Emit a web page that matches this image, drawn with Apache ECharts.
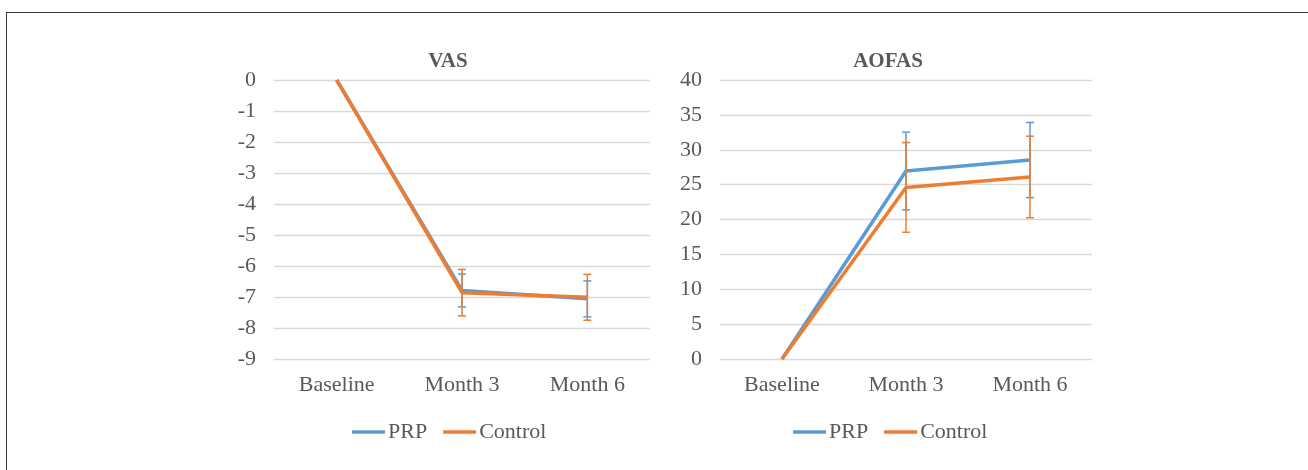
<!DOCTYPE html>
<html>
<head>
<meta charset="utf-8">
<script src="https://cdn.jsdelivr.net/npm/echarts@6/dist/echarts.min.js"></script>
<style>
  html, body { margin: 0; padding: 0; background: #fff; overflow: hidden; }
  #chart { width: 1308px; height: 470px; }
  .frame { position: absolute; left: 6px; top: 12px; width: 1400px; height: 600px;
           border-top: 1.5px solid #3a3a3a; border-left: 1.5px solid #3a3a3a; pointer-events: none; }
</style>
</head>
<body>
<div id="chart"></div>
<div class="frame"></div>
<script>
// categories
var categories = ["Baseline", "Month 3", "Month 6"]

// VAS change from baseline (mean, sd)
var vasPrp = [0, -6.79, -7.06]
var vasPrpSd = [0, 0.53, 0.58]
var vasControl = [0, -6.86, -7.01]
var vasControlSd = [0, 0.75, 0.74]

// AOFAS change from baseline (mean, sd)
var aofasPrp = [0, 26.95, 28.53]
var aofasPrpSd = [0, 5.57, 5.38]
var aofasControl = [0, 24.6, 26.1]
var aofasControlSd = [0, 6.43, 5.85]

var BLUE = "#5B9BD5"
var ORANGE = "#ED7D31"
var TXT = "#595959"
var FONT = "Liberation Serif"

function errData(mean, sd) {
    var out = []
    for (var i = 0; i < mean.length; i++) {
        if (sd[i]) out.push([i, mean[i] - sd[i], mean[i] + sd[i]])
    }
    return out
}

// error bars: vertical line plus two caps
function errSeries(name, mean, sd, color, idx) {
    return {
        type: "custom",
        name: name,
        xAxisIndex: idx,
        yAxisIndex: idx,
        z: 3,
        data: errData(mean, sd),
        encode: { x: 0, y: [1, 2] },
        renderItem: function (params, api) {
            var lo = api.coord([api.value(0), api.value(1)])
            var hi = api.coord([api.value(0), api.value(2)])
            var w = 4
            var st = { stroke: color, lineWidth: 1.5 }
            return {
                type: "group",
                children: [
                    { type: "line", shape: { x1: lo[0], y1: lo[1], x2: hi[0], y2: hi[1] }, style: st },
                    { type: "line", shape: { x1: lo[0] - w, y1: lo[1], x2: lo[0] + w, y2: lo[1] }, style: st },
                    { type: "line", shape: { x1: hi[0] - w, y1: hi[1], x2: hi[0] + w, y2: hi[1] }, style: st }
                ]
            }
        }
    }
}

function lineSeries(name, data, color, idx) {
    return {
        type: "line",
        name: name,
        xAxisIndex: idx,
        yAxisIndex: idx,
        data: data,
        color: color,
        symbol: "none",
        z: 2,
        lineStyle: { width: 3.5, color: color }
    }
}

function xAxis(idx) {
    return {
        type: "category",
        gridIndex: idx,
        data: categories,
        boundaryGap: true,
        axisLine: { show: false },
        axisTick: { show: false },
        axisLabel: { color: TXT, fontFamily: FONT, fontSize: 22, margin: 15 }
    }
}

function yAxis(idx, min, max, step) {
    return {
        type: "value",
        gridIndex: idx,
        min: min,
        max: max,
        interval: step,
        axisLine: { show: false },
        axisTick: { show: false },
        splitLine: { lineStyle: { color: "#D9D9D9", width: 1.3 } },
        axisLabel: { color: TXT, fontFamily: FONT, fontSize: 22, margin: 18 }
    }
}

function legend(left) {
    return {
        left: left,
        top: 416,
        icon: "rect",
        itemWidth: 33,
        itemHeight: 3.5,
        itemGap: 16,
        textStyle: { color: TXT, fontFamily: FONT, fontSize: 22, padding: [0, 0, 0, -2] },
        data: ["PRP", "Control"]
    }
}

var myChart = echarts.init(document.getElementById("chart"), null, { renderer: "canvas" })

myChart.setOption({
    animation: false,
    backgroundColor: "#fff",
    title: [
        { text: "VAS", left: 443, top: 46, textAlign: "center",
          textStyle: { color: TXT, fontFamily: FONT, fontWeight: "bold", fontSize: 21 } },
        { text: "AOFAS", left: 883, top: 46, textAlign: "center",
          textStyle: { color: TXT, fontFamily: FONT, fontWeight: "bold", fontSize: 21 } }
    ],
    legend: [legend(347), legend(788)],
    grid: [
        { left: 274, top: 80, width: 376, height: 279 },
        { left: 720, top: 80, width: 372, height: 279 }
    ],
    xAxis: [xAxis(0), xAxis(1)],
    yAxis: [yAxis(0, -9, 0, 1), yAxis(1, 0, 40, 5)],
    series: [
        lineSeries("PRP", vasPrp, BLUE, 0),
        errSeries("PRP", vasPrp, vasPrpSd, BLUE, 0),
        lineSeries("Control", vasControl, ORANGE, 0),
        errSeries("Control", vasControl, vasControlSd, ORANGE, 0),
        lineSeries("PRP", aofasPrp, BLUE, 1),
        errSeries("PRP", aofasPrp, aofasPrpSd, BLUE, 1),
        lineSeries("Control", aofasControl, ORANGE, 1),
        errSeries("Control", aofasControl, aofasControlSd, ORANGE, 1)
    ]
})
</script>
</body>
</html>
